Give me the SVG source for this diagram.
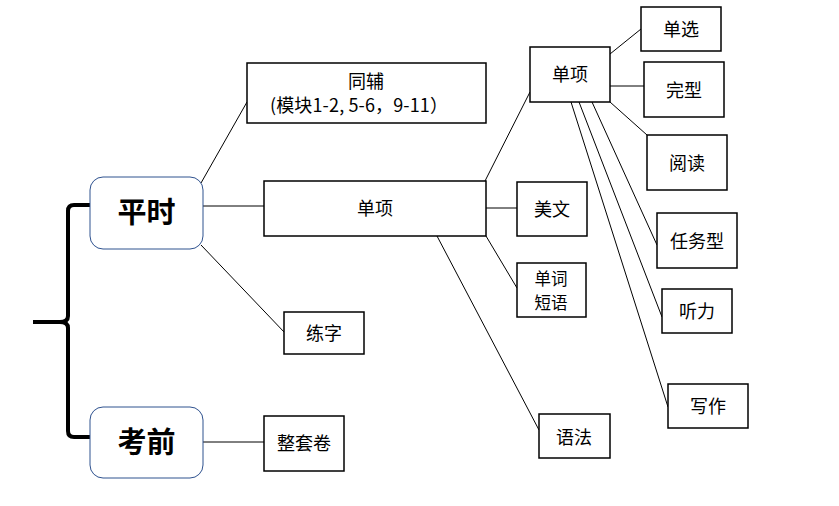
<svg xmlns="http://www.w3.org/2000/svg" width="839" height="506" viewBox="0 0 839 506">
<style>
.b{fill:#fff;stroke:#000;stroke-width:1.5}
.r{fill:#fff;stroke:#2F528F;stroke-width:1}
.t{font-family:"Noto Sans CJK SC","Noto Sans",sans-serif;font-size:18px;fill:#000;text-anchor:middle}
.s{font-size:16.5px}
.h{font-family:"Noto Sans CJK SC","Noto Sans",sans-serif;font-size:29px;font-weight:bold;fill:#000;text-anchor:middle}
.c{stroke:#000;stroke-width:1;fill:none}
</style>
<rect width="839" height="506" fill="#fff"/>
<g id="connectors">
<path class="c" d="M201,183 L247,102"/>
<path class="c" d="M203,206 L264,206"/>
<path class="c" d="M201,245 L285,333"/>
<path class="c" d="M203,442 L264,442"/>
<path class="c" d="M485,181 L530,92"/>
<path class="c" d="M486,208 L517,208"/>
<path class="c" d="M486,236 L517,288"/>
<path class="c" d="M437,236 L539,430"/>
<path class="c" d="M610,54 L641,29"/>
<path class="c" d="M610,86 L644,86"/>
<path class="c" d="M610,102 L647,135"/>
<path class="c" d="M592,102 L657,245"/>
<path class="c" d="M579,102 L662,317"/>
<path class="c" d="M571,102 L668,407"/>
<path d="M90,205 L74,205 Q68,205 68,211 L68,316 Q68,322 60,322 L33,322 M60,322 Q68,322 68,328 L68,431 Q68,437 74,437 L90,437" fill="none" stroke="#000" stroke-width="4"/>
</g>
<g id="pingshi"><rect class="r" x="90" y="177" width="113" height="72" rx="13"/><text class="h" x="146.5" y="223">平时</text></g>
<g id="kaoqian"><rect class="r" x="90" y="407" width="113" height="71" rx="13"/><text class="h" x="146.5" y="453">考前</text></g>
<g id="tongfu"><rect class="b" x="247" y="63" width="239" height="60"/><text class="t" x="366" y="88">同辅</text><text class="t" x="359" y="112" textLength="178" lengthAdjust="spacing">(模块1-2, 5-6，9-11）</text></g>
<g id="danxiang1"><rect class="b" x="264" y="181" width="222" height="55"/><text class="t" x="375" y="215">单项</text></g>
<g id="lianzi"><rect class="b" x="284" y="312" width="80" height="42"/><text class="t" x="324" y="340">练字</text></g>
<g id="zhengtaojuan"><rect class="b" x="264" y="416" width="80" height="55"/><text class="t" x="304" y="450">整套卷</text></g>
<g id="danxiang2"><rect class="b" x="530" y="47" width="80" height="55"/><text class="t" x="570" y="81">单项</text></g>
<g id="meiwen"><rect class="b" x="517" y="182" width="70" height="54"/><text class="t" x="552" y="216">美文</text></g>
<g id="danci"><rect class="b" x="517" y="263" width="69" height="54"/><text class="t s" x="551" y="285">单词</text><text class="t s" x="551" y="309">短语</text></g>
<g id="yufa"><rect class="b" x="539" y="414" width="71" height="44"/><text class="t" x="574" y="444">语法</text></g>
<g id="danxuan"><rect class="b" x="641" y="7" width="80" height="44"/><text class="t" x="681" y="36">单选</text></g>
<g id="wanxing"><rect class="b" x="644" y="62" width="80" height="55"/><text class="t" x="684" y="97">完型</text></g>
<g id="yuedu"><rect class="b" x="647" y="135" width="80" height="55"/><text class="t" x="687" y="170">阅读</text></g>
<g id="renwuxing"><rect class="b" x="657" y="213" width="80" height="55"/><text class="t" x="697" y="248">任务型</text></g>
<g id="tingli"><rect class="b" x="662" y="289" width="70" height="44"/><text class="t" x="697" y="318">听力</text></g>
<g id="xiezuo"><rect class="b" x="668" y="384" width="80" height="44"/><text class="t" x="708" y="413">写作</text></g>
</svg>
